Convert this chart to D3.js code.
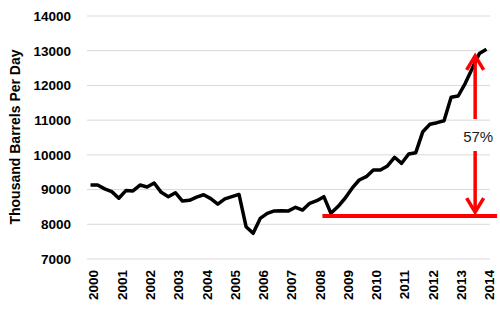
<!DOCTYPE html>
<html>
<head>
<meta charset="utf-8">
<script src="https://cdn.jsdelivr.net/npm/d3@7"></script>
<style>
  body { margin: 0; background: #fff; }
  text { font-family: "Liberation Sans", Arial, sans-serif; }
</style>
</head>
<body>
<div id="chart"></div>
<script>
// quarterly production, 2000 Q1 .. 2014 Q1
const years = ["2000","2001","2002","2003","2004","2005","2006","2007","2008","2009","2010","2011","2012","2013","2014"]
const values = [
  9130, 9130, 9020, 8940, 8750, 8970, 8960, 9130, 9075, 9190, 8920, 8795,
  8910, 8670, 8690, 8780, 8850, 8740, 8580, 8730, 8795, 8860, 7930, 7740,
  8170, 8315, 8385, 8390, 8385, 8490, 8410, 8605, 8680, 8795, 8316, 8510,
  8750, 9040, 9276, 9371, 9564, 9564, 9680, 9930, 9757, 10025, 10063, 10668,
  10880, 10927, 10984, 11658, 11696, 12062, 12494, 12920, 13040
]
const yTicks = [7000, 8000, 9000, 10000, 11000, 12000, 13000, 14000]
// annotation: base level, arrow ends, label
const baseLevel = 8240
const baseFrom = 32.8, baseTo = 57.5
const arrowAt = 54.4
const arrowLow = 8320, arrowHigh = 12880
const changeLabel = "57%"

const width = 500, height = 309
const svg = d3.select('#chart').append('svg').attr('width', width).attr('height', height)

const x = d3.scaleLinear().domain([-0.5, values.length - 0.5]).range([87, 490])
const y = d3.scaleLinear().domain([7000, 14000]).range([259, 16])

// gridlines
svg.append('g').selectAll('line').data(yTicks).join('line')
  .attr('x1', 87).attr('x2', 490)
  .attr('y1', d => y(d)).attr('y2', d => y(d))
  .attr('stroke', '#d9d9d9').attr('stroke-width', 1)

// y tick labels
svg.append('g').selectAll('text').data(yTicks).join('text')
  .attr('x', 71).attr('y', d => y(d)).attr('dy', '0.36em')
  .attr('text-anchor', 'end')
  .attr('font-size', 13.5).attr('font-weight', 'bold').attr('fill', '#000')
  .text(d => d)

// x tick labels, one per year (every 4th quarter)
svg.append('g').selectAll('text').data(years).join('text')
  .attr('transform', (d, i) => `translate(${x(i * 4) + 3},270) rotate(-90)`)
  .attr('dy', '0.36em')
  .attr('text-anchor', 'end')
  .attr('font-size', 13.5).attr('font-weight', 'bold').attr('fill', '#000')
  .text(d => d)

// y axis title
svg.append('text')
  .attr('transform', `translate(15,137) rotate(-90)`)
  .attr('dy', '0.36em')
  .attr('text-anchor', 'middle')
  .attr('font-size', 14).attr('font-weight', 'bold').attr('fill', '#000')
  .text('Thousand Barrels Per Day')

// the series
const line = d3.line().x((d, i) => x(i)).y(d => y(d))
svg.append('path').datum(values)
  .attr('fill', 'none').attr('stroke', '#000').attr('stroke-width', 3.5)
  .attr('stroke-linejoin', 'round')
  .attr('d', line)

// red annotation
const red = '#ff0000'
const ann = svg.append('g').attr('stroke', red).attr('fill', 'none')
ann.append('line')
  .attr('x1', x(baseFrom)).attr('x2', x(baseTo))
  .attr('y1', y(baseLevel)).attr('y2', y(baseLevel))
  .attr('stroke-width', 4)

const ax = x(arrowAt)
const yHi = y(arrowHigh), yLo = y(arrowLow)
const labelY = 137
ann.append('line').attr('x1', ax).attr('x2', ax).attr('y1', yHi + 1).attr('y2', labelY - 18).attr('stroke-width', 3.5)
ann.append('line').attr('x1', ax).attr('x2', ax).attr('y1', labelY + 14).attr('y2', yLo - 1).attr('stroke-width', 3.5)
ann.append('path')
  .attr('d', `M${ax - 8.5},${yHi + 15}L${ax},${yHi + 1}L${ax + 8.5},${yHi + 15}`)
  .attr('stroke-width', 3.5).attr('stroke-linejoin', 'miter')
ann.append('path')
  .attr('d', `M${ax - 8.5},${yLo - 15}L${ax},${yLo - 1}L${ax + 8.5},${yLo - 15}`)
  .attr('stroke-width', 3.5).attr('stroke-linejoin', 'miter')

svg.append('text')
  .attr('x', ax + 3).attr('y', labelY).attr('dy', '0.36em')
  .attr('text-anchor', 'middle')
  .attr('font-size', 15).attr('fill', '#1a1a1a')
  .text(changeLabel)
</script>
</body>
</html>
